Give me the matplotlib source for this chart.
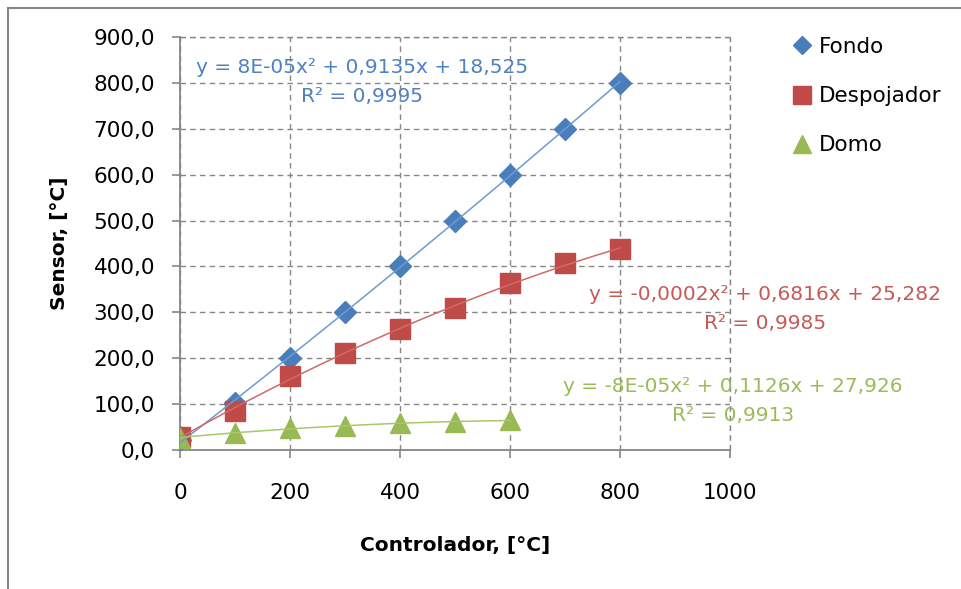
import matplotlib
matplotlib.use("Agg")
import matplotlib.pyplot as plt
import numpy as np
from matplotlib.lines import Line2D
from matplotlib.ticker import FuncFormatter, MultipleLocator

# Datos
controlador = [0, 100, 200, 300, 400, 500, 600, 700, 800]
fondo = [22, 103, 200, 300, 400, 500, 600, 700, 800]
despojador = [29, 86, 161, 212, 263, 309, 364, 407, 437]
controlador_domo = [0, 100, 200, 300, 400, 500, 600]
domo = [27, 37, 48, 52, 58, 61, 65]

series_names = ["Fondo", "Despojador", "Domo"]
trend_texts = [
    "y = 8E-05x² + 0,9135x + 18,525\nR² = 0,9995",
    "y = -0,0002x² + 0,6816x + 25,282\nR² = 0,9985",
    "y = -8E-05x² + 0,1126x + 27,926\nR² = 0,9913",
]

blue = "#4A7EBB"
red = "#BE4B48"
green = "#98B954"
grey = "#868686"

W, H = 962, 589
fig = plt.figure(figsize=(W / 100, H / 100), dpi=100)

def px(x, y):
    # pixel -> figure coords
    return x / W, 1 - y / H

ax = fig.add_axes([180 / W, 1 - 450 / H, 550 / W, 413 / H])
ax.set_xlim(0, 1000)
ax.set_ylim(0, 900)

# series: markers only
ax.plot(controlador, fondo, linestyle="none", marker="D", ms=11, color=blue, zorder=3)
ax.plot(controlador, despojador, linestyle="none", marker="s", ms=15, color=red, zorder=4)
ax.plot(controlador_domo, domo, linestyle="none", marker="^", ms=14, color=green, zorder=5)

# polynomial trendlines (order 2)
for xs, ys, c in [(controlador, fondo, "#6E9AD3"),
                  (controlador, despojador, "#D06A67"),
                  (controlador_domo, domo, "#A8C86A")]:
    coef = np.polyfit(xs, ys, 2)
    xx = np.linspace(xs[0], xs[-1], 100)
    ax.plot(xx, np.polyval(coef, xx), color=c, lw=1.1, zorder=6)

# trendline labels
fig.text(*px(362, 82), trend_texts[0], color="#4F81C4", fontsize=14.5,
         ha="center", va="center", linespacing=1.7)
fig.text(*px(765, 309), trend_texts[1], color="#C55A57", fontsize=14.5,
         ha="center", va="center", linespacing=1.7)
fig.text(*px(733, 401), trend_texts[2], color="#9BBB59", fontsize=14.5,
         ha="center", va="center", linespacing=1.7)

# grid and axes styling
ax.xaxis.set_major_locator(MultipleLocator(200))
ax.yaxis.set_major_locator(MultipleLocator(100))
ax.yaxis.set_major_formatter(FuncFormatter(lambda v, p: f"{v:.1f}".replace(".", ",")))
ax.grid(True, color=grey, linestyle=(0, (4, 3)), linewidth=1)
ax.set_axisbelow(True)
for s in ["top", "right"]:
    ax.spines[s].set_visible(False)
for s in ["left", "bottom"]:
    ax.spines[s].set_color(grey)
    ax.spines[s].set_linewidth(1.3)
ax.tick_params(axis="both", colors=grey, length=6, width=1.2, labelcolor="black",
               labelsize=15.5)
ax.tick_params(axis="x", pad=18)
ax.tick_params(axis="y", pad=12)
# dashed right/top border from grid
ax.axvline(1000, color=grey, linestyle=(0, (4, 3)), linewidth=1, zorder=0, clip_on=False)
ax.axhline(900, color=grey, linestyle=(0, (4, 3)), linewidth=1, zorder=0, clip_on=False)

# axis titles
fig.text(*px(60, 243), "Sensor, [°C]", rotation=90, fontsize=14.5, fontweight="bold",
         ha="center", va="center")
fig.text(*px(455, 545), "Controlador, [°C]", fontsize=14.5, fontweight="bold",
         ha="center", va="center")

# legend
handles = [
    Line2D([], [], linestyle="none", marker="D", ms=9, color=blue),
    Line2D([], [], linestyle="none", marker="s", ms=13, color=red),
    Line2D([], [], linestyle="none", marker="^", ms=13, color=green),
]
fig.legend(handles, series_names, loc="upper left", bbox_to_anchor=px(791, 37),
           frameon=False, fontsize=15.5, handlelength=1.0, handletextpad=0.3,
           labelspacing=1.35, borderaxespad=0, borderpad=0)

# outer chart border
fig.add_artist(Line2D([8 / W, 1], [1 - 8 / H, 1 - 8 / H], color=grey, lw=1.5))
fig.add_artist(Line2D([8 / W, 8 / W], [0, 1 - 8 / H], color=grey, lw=1.5))

fig.savefig("out.png", dpi=100)
